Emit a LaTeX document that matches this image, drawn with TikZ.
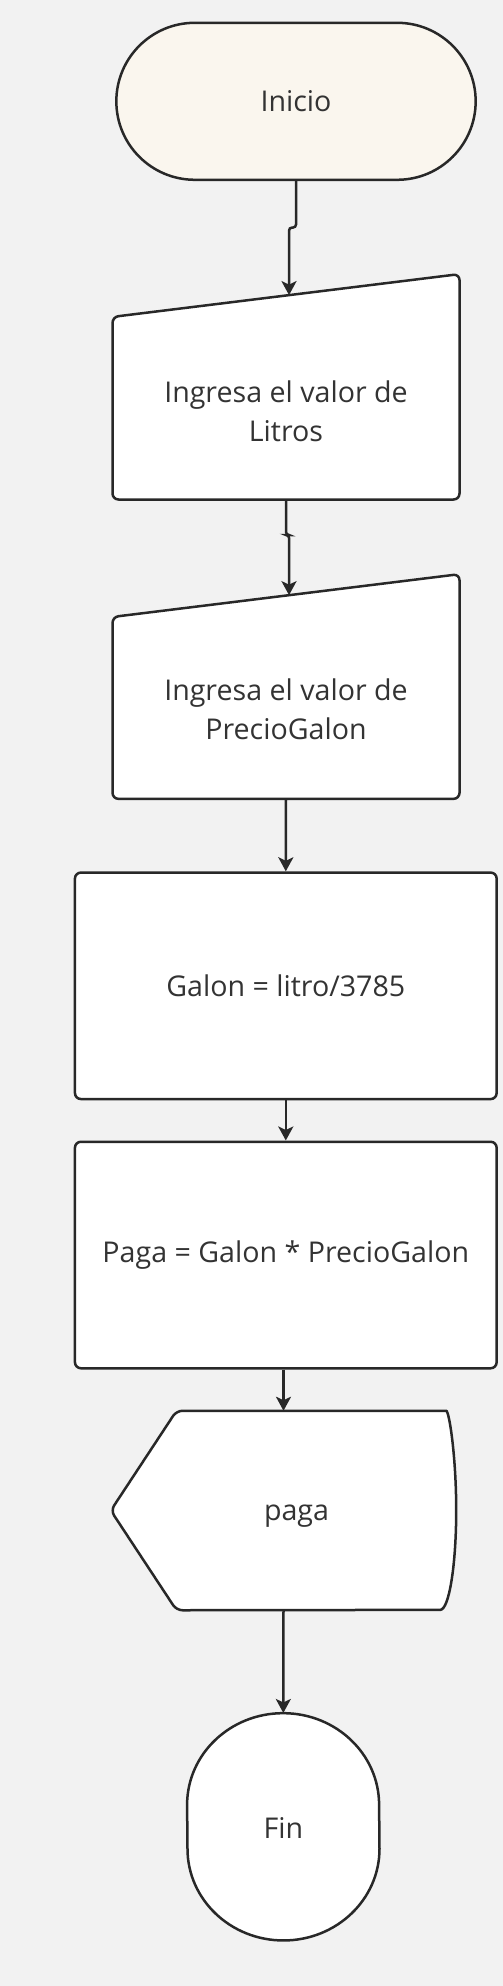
\documentclass[tikz,border=0pt]{standalone}
\usepackage{fontspec}
\setmainfont{Open Sans}
\usepackage{xcolor}
\definecolor{fcLine}{RGB}{40, 40, 40}
\definecolor{fcText}{RGB}{51, 51, 51}
\definecolor{fcCream}{RGB}{250, 246, 238}
\definecolor{fcBack}{RGB}{242, 242, 242}
\usepackage{tikz}
\usetikzlibrary{
    shapes.misc,
    arrows.meta,
    calc
}

\begin{document}
\begin{tikzpicture}[
    x=1pt, y=1pt,
    every node/.style={font=\fontsize{28.6}{38.6}\selectfont, text=fcText},
    termBox/.style={
        rounded rectangle, draw=fcLine, line width=2.5pt,
        fill=fcCream, minimum width=366pt, minimum height=157pt
    },
    ioBox/.style={
        rectangle, minimum width=346.6pt, minimum height=182.2pt,
        align=center, inner sep=0pt
    },
    procBox/.style={
        rectangle, rounded corners=6pt, draw=fcLine, line width=2.5pt,
        fill=white, minimum width=421.7pt, minimum height=226.5pt
    },
    shapeLine/.style={
        draw=fcLine, line width=2.5pt, fill=white, rounded corners=6pt
    },
    flowArrow/.style={
        -{Stealth[length=14pt, width=15pt, inset=3.5pt]},
        line width=2.5pt, draw=fcLine
    }
]

    % Background and bounding box
    \fill[fcBack] (0, 0) rectangle (503, -1986);
    \useasboundingbox (0, 0) rectangle (503, -1986);

    % Start
    \node[termBox] (ini) at (296, -101.3) {Inicio};

    % Inputs
    \node[ioBox] (inLitros) at (286, -408.2) {};
    \draw[shapeLine] (inLitros.south west) -- (inLitros.south east)
        -- ([yshift=42.8]inLitros.north east) -- (inLitros.north west) -- cycle;
    \node[align=center] at (286, -411) {Ingresa el valor de\\Litros};
    \coordinate (inLitrosTop) at ($(inLitros.north west)!0.5087!(inLitros.north east) + (0, 21.8)$);

    \node[ioBox, minimum height=181.5pt] (inPrecio) at (286, -707.9) {};
    \draw[shapeLine] (inPrecio.south west) -- (inPrecio.south east)
        -- ([yshift=42.8]inPrecio.north east) -- (inPrecio.north west) -- cycle;
    \node[align=center] at (286, -709.5) {Ingresa el valor de\\PrecioGalon};
    \coordinate (inPrecioTop) at ($(inPrecio.north west)!0.5087!(inPrecio.north east) + (0, 21.8)$);

    % Process
    \node[procBox] (procGalon) at (285.8, -985.8) {Galon = litro/3785};
    \node[procBox] (procPaga) at (285.8, -1255) {Paga = Galon * PrecioGalon};

    % Output
    \node[rectangle, minimum width=345pt, minimum height=199.1pt] (outPaga) at (283.5, -1510.5) {};
    \draw[shapeLine] (outPaga.west) -- ([xshift=65.7]outPaga.north west)
        -- ([xshift=-16]outPaga.north east)
        {[rounded corners=0pt] arc[start angle=90, end angle=-90, x radius=16, y radius=99.55]}
        -- ([xshift=65.7]outPaga.south west) -- cycle;
    \node at ([xshift=13, yshift=-6]outPaga.center) {paga};

    % End
    \node[rectangle, minimum width=192pt, minimum height=227.3pt] (fin) at (283.3, -1826.8) {};
    \draw[draw=fcLine, line width=2.5pt, fill=white] ([yshift=22]fin.west)
        arc[start angle=180, end angle=0, x radius=96, y radius=91.65]
        -- ([yshift=-22]fin.east)
        arc[start angle=0, end angle=-180, x radius=96, y radius=91.65] -- cycle;
    \node at ([yshift=-1.5]fin.center) {Fin};

    % Connectors
    \draw[flowArrow, rounded corners=3pt] (ini.south) -- ++(0, -46.5) -| (inLitrosTop);
    \draw[flowArrow, rounded corners=3pt] (inLitros.south) -- ++(0, -35.5) -| (inPrecioTop);
    \draw[flowArrow] (inPrecio.south) -- (procGalon.north);
    \draw[flowArrow] (procGalon.south) -- (procPaga.north);
    \draw[flowArrow] (procPaga.south -| outPaga.north) -- (outPaga.north);
    \draw[flowArrow] (outPaga.south) -- (fin.north);

\end{tikzpicture}
\end{document}
